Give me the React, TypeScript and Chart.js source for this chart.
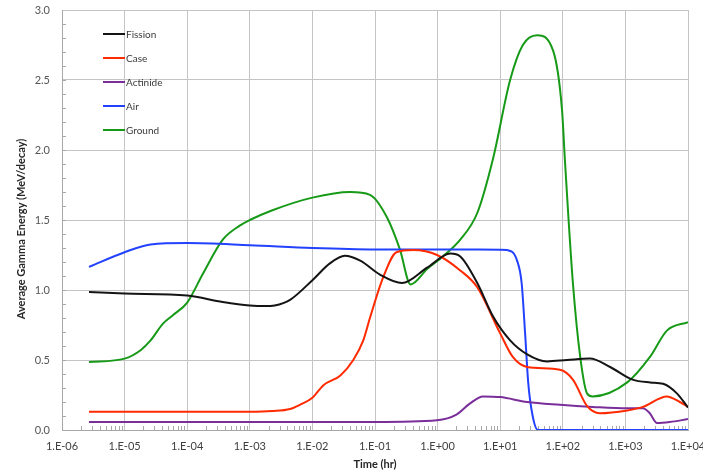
import React, { useEffect, useRef } from 'react';
import { Chart, registerables } from 'chart.js';

Chart.register(...registerables);

// ---------- data (time in hours, energy in MeV/decay) ----------
const seriesNames = ['Fission', 'Case', 'Actinide', 'Air', 'Ground'];
const seriesColors = ['#141414', '#ff2a00', '#7a2e9a', '#2342ff', '#179a17'];

const fissionTime = [2.7e-6, 1e-5, 1e-4, 3.7e-4, 1e-3, 1.7e-3, 2.5e-3, 4.4e-3, 1e-2, 1.9e-2, 3.3e-2, 5.8e-2, 0.12, 0.27, 0.68, 1.6, 2.3, 4.3, 7.7, 14.4, 27, 56, 117, 270, 570, 1300, 2500, 4000, 6700, 1e4];
const fissionEnergy = [0.985, 0.975, 0.96, 0.915, 0.89, 0.885, 0.89, 0.93, 1.07, 1.19, 1.245, 1.21, 1.11, 1.05, 1.16, 1.26, 1.24, 1.05, 0.81, 0.64, 0.54, 0.49, 0.5, 0.51, 0.45, 0.36, 0.34, 0.33, 0.26, 0.16];

const caseTime = [2.7e-6, 1e-4, 1e-3, 2.3e-3, 4.4e-3, 6.3e-3, 1e-2, 1.5e-2, 2.8e-2, 4.5e-2, 6.5e-2, 8.3e-2, 0.135, 0.22, 0.41, 0.98, 2.3, 4.3, 10, 16, 27, 90, 145, 245, 390, 1070, 1900, 4600, 7400, 1e4];
const caseEnergy = [0.13, 0.13, 0.13, 0.135, 0.15, 0.18, 0.23, 0.32, 0.39, 0.5, 0.64, 0.8, 1.09, 1.27, 1.285, 1.25, 1.14, 1.02, 0.69, 0.52, 0.45, 0.43, 0.36, 0.17, 0.12, 0.14, 0.165, 0.24, 0.2, 0.165];

const actinideTime = [2.7e-6, 1e-3, 0.1, 0.98, 2.0, 3.3, 5.3, 10, 27, 90, 300, 1070, 1900, 2450, 3200, 5100, 1e4];
const actinideEnergy = [0.058, 0.058, 0.058, 0.07, 0.11, 0.19, 0.24, 0.235, 0.2, 0.18, 0.165, 0.155, 0.155, 0.12, 0.05, 0.057, 0.078];

const airTime = [2.7e-6, 1e-5, 2.6e-5, 1e-4, 1e-3, 1e-2, 0.1, 1, 10, 13, 18.6, 22, 25, 28, 33, 40, 100, 1e3, 1e4];
const airEnergy = [1.165, 1.27, 1.325, 1.335, 1.32, 1.3, 1.29, 1.29, 1.288, 1.285, 1.21, 1.05, 0.69, 0.34, 0.1, 0.0, 0.0, 0.0, 0.0];

const groundTime = [2.7e-6, 1e-5, 1.8e-5, 2.6e-5, 4.1e-5, 5.9e-5, 1e-4, 1.8e-4, 3.7e-4, 6.9e-4, 1e-3, 2.3e-3, 1e-2, 4e-2, 8.3e-2, 0.155, 0.25, 0.37, 0.68, 1.22, 2.3, 4.3, 7.7, 14.4, 23, 39, 70, 97, 108, 145, 190, 245, 300, 1070, 2450, 4600, 1e4];
const groundEnergy = [0.486, 0.51, 0.57, 0.64, 0.76, 0.82, 0.91, 1.12, 1.36, 1.46, 1.5, 1.57, 1.66, 1.7, 1.68, 1.52, 1.29, 1.04, 1.15, 1.24, 1.36, 1.55, 1.94, 2.5, 2.75, 2.82, 2.71, 2.29, 1.93, 1.05, 0.52, 0.26, 0.24, 0.34, 0.52, 0.71, 0.77];

const xTickValues = [1e-6, 1e-5, 1e-4, 1e-3, 1e-2, 1e-1, 1e0, 1e1, 1e2, 1e3, 1e4];
const yMin = 0;
const yMax = 3.0;
const yStep = 0.5;
const yMinorStep = 0.1;

const xTitle = 'Time (hr)';
const yTitle = 'Average Gamma Energy (MeV/decay)';

const seriesTimes = [fissionTime, caseTime, actinideTime, airTime, groundTime];
const seriesEnergies = [fissionEnergy, caseEnergy, actinideEnergy, airEnergy, groundEnergy];

const FONT = 'Lato, "Open Sans", "DejaVu Sans", sans-serif';

function formatSci(v: number): string {
  const e = Math.round(Math.log10(v));
  return '1.E' + (e < 0 ? '-' : '+') + String(Math.abs(e)).padStart(2, '0');
}

const decorPlugin = {
  id: 'decor',
  beforeDatasetsDraw(chart: any) {
    const { ctx, chartArea, scales } = chart;
    const xs = scales.x;
    const ys = scales.y;
    ctx.save();
    ctx.strokeStyle = '#a8a8a8';
    ctx.lineWidth = 1;
    ctx.beginPath();
    // x minor ticks
    for (let i = 0; i < xTickValues.length - 1; i++) {
      for (let k = 2; k <= 9; k++) {
        const px = Math.round(xs.getPixelForValue(xTickValues[i] * k)) + 0.5;
        ctx.moveTo(px, chartArea.bottom);
        ctx.lineTo(px, chartArea.bottom - 4);
      }
    }
    // y minor ticks
    const n = Math.round((yMax - yMin) / yMinorStep);
    for (let i = 1; i < n; i++) {
      const py = Math.round(ys.getPixelForValue(yMin + i * yMinorStep)) + 0.5;
      ctx.moveTo(chartArea.left, py);
      ctx.lineTo(chartArea.left + 4, py);
    }
    ctx.stroke();
    ctx.restore();
  },
  afterDraw(chart: any) {
    const { ctx, chartArea } = chart;
    ctx.save();
    // y axis title
    ctx.translate(21, (chartArea.top + chartArea.bottom) / 2 + 9);
    ctx.rotate(-Math.PI / 2);
    ctx.font = 'bold 11px ' + FONT;
    ctx.fillStyle = '#262626';
    ctx.textAlign = 'center';
    ctx.textBaseline = 'middle';
    ctx.fillText(yTitle, 0, 0);
    ctx.restore();

    // legend inside plot
    ctx.save();
    ctx.font = '10px ' + FONT;
    ctx.textBaseline = 'middle';
    ctx.textAlign = 'left';
    chart.data.datasets.forEach((ds: any, i: number) => {
      const y = chartArea.top + 24 + i * 24;
      const x0 = chartArea.left + 41;
      ctx.strokeStyle = ds.borderColor;
      ctx.lineWidth = 2;
      ctx.beginPath();
      ctx.moveTo(x0, y);
      ctx.lineTo(x0 + 22, y);
      ctx.stroke();
      ctx.fillStyle = '#3a3a3a';
      ctx.fillText(ds.label, x0 + 23, y + 0.5);
    });
    ctx.restore();
  },
};

export default function App() {
  const canvasRef = useRef<HTMLCanvasElement | null>(null);

  useEffect(() => {
    document.body.style.margin = '0';
    const canvas = canvasRef.current;
    if (!canvas) return;

    const datasets = seriesNames.map((name, i) => ({
      label: name,
      data: seriesTimes[i].map((t, j) => ({ x: t, y: seriesEnergies[i][j] })),
      borderColor: seriesColors[i],
      backgroundColor: seriesColors[i],
      borderWidth: 2,
      pointRadius: 0,
      cubicInterpolationMode: 'monotone' as const,
      fill: false,
    }));

    const chart = new Chart(canvas, {
      type: 'line',
      data: { datasets },
      plugins: [decorPlugin],
      options: {
        responsive: false,
        animation: false,
        parsing: false as any,
        layout: { padding: { top: 10, right: 15, left: 0, bottom: 0 } },
        plugins: {
          legend: { display: false },
          tooltip: { enabled: false },
        },
        scales: {
          x: {
            type: 'logarithmic',
            min: 1e-6,
            max: 1e4,
            afterBuildTicks: (scale: any) => {
              scale.ticks = xTickValues.map((v) => ({ value: v }));
            },
            afterFit: (scale: any) => {
              scale.height = 43;
              scale.paddingLeft = 0;
              scale.paddingRight = 0;
            },
            ticks: {
              autoSkip: false,
              maxRotation: 0,
              minRotation: 0,
              padding: 10,
              color: '#404040',
              font: { family: FONT, size: 11 },
              callback: (value: any) => formatSci(Number(value)),
            },
            grid: { color: '#c4c4c4', lineWidth: 1, drawTicks: false },
            border: { display: true, color: '#a8a8a8' },
            title: {
              display: true,
              text: xTitle,
              color: '#262626',
              font: { family: FONT, size: 11, weight: 'bold' },
              padding: { top: 0, bottom: 1.5 },
            },
          },
          y: {
            type: 'linear',
            min: yMin,
            max: yMax,
            afterFit: (scale: any) => {
              scale.width = 62;
              scale.paddingTop = 0;
              scale.paddingBottom = 0;
            },
            ticks: {
              stepSize: yStep,
              padding: 12,
              color: '#555555',
              font: { family: FONT, size: 11 },
              callback: (value: any) => Number(value).toFixed(1),
            },
            grid: { color: '#c4c4c4', lineWidth: 1, drawTicks: false },
            border: { display: true, color: '#a8a8a8' },
          },
        },
      },
    });

    return () => chart.destroy();
  }, []);

  return (
    <div style={{ width: 703, height: 473, position: 'relative', background: '#ffffff' }}>
      <canvas ref={canvasRef} width={703} height={473} style={{ display: 'block' }} />
    </div>
  );
}
